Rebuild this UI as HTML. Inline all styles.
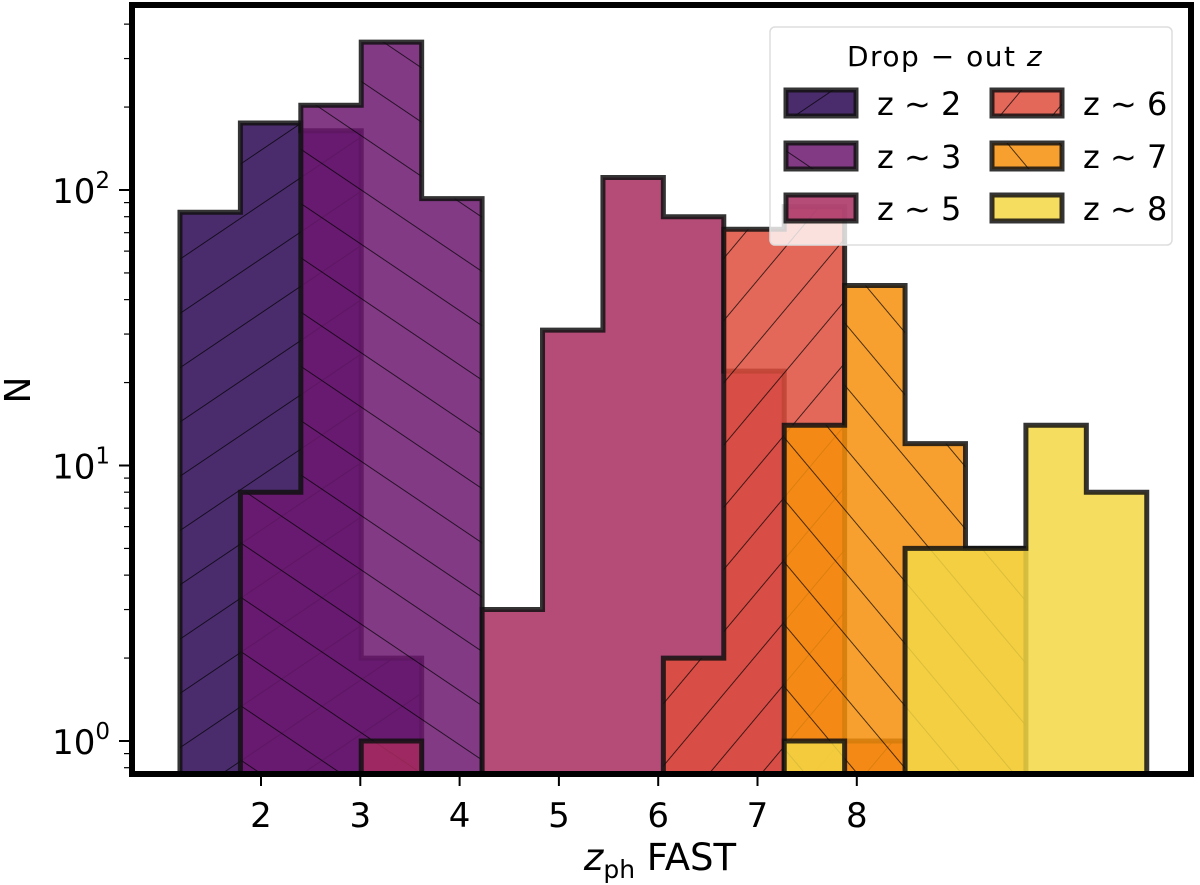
<!DOCTYPE html>
<html><head><meta charset="utf-8"><style>
html,body{margin:0;padding:0;background:#fff;}
svg{display:block;font-family:"DejaVu Sans","Liberation Sans",sans-serif;}
</style></head><body>
<svg id="chart" width="1200" height="885" viewBox="0 0 1200 885">
<defs>
<pattern id="hatchF" patternUnits="userSpaceOnUse" width="45" height="45" patternTransform="rotate(-34)"><line x1="0" y1="0.5" x2="45" y2="0.5" stroke="#000" stroke-width="0.9" stroke-opacity="0.7"/></pattern>
<pattern id="hatchB" patternUnits="userSpaceOnUse" width="45" height="45" patternTransform="rotate(34)"><line x1="0" y1="0.5" x2="45" y2="0.5" stroke="#000" stroke-width="0.9" stroke-opacity="0.7"/></pattern>
<pattern id="hatchF6" patternUnits="userSpaceOnUse" width="40" height="40" patternTransform="rotate(-50)"><line x1="0" y1="0.5" x2="40" y2="0.5" stroke="#000" stroke-width="0.9" stroke-opacity="0.7"/></pattern>
<pattern id="hatchB7" patternUnits="userSpaceOnUse" width="40" height="40" patternTransform="rotate(50)"><line x1="0" y1="0.5" x2="40" y2="0.5" stroke="#000" stroke-width="0.9" stroke-opacity="0.7"/></pattern>
<clipPath id="plotclip"><rect x="132" y="5" width="1060" height="769"/></clipPath>
</defs>
<g id="plot" clip-path="url(#plotclip)"></g>
<g id="axes"></g>
<rect x="132" y="5" width="1059" height="769" fill="none" stroke="#000" stroke-width="6"/>
<g id="legend"></g>
<text x="20" y="390" font-size="36" text-anchor="middle" transform="rotate(-90 20 390)" dominant-baseline="middle">N</text>
<text x="660" y="870" font-size="37" text-anchor="middle"><tspan font-style="italic">z</tspan><tspan font-size="25" dy="8">ph</tspan><tspan dy="-8"> FAST</tspan></text>
</svg>
<script>
const binStart = 1.184;
const binWidth = 0.6085;
const seriesNames = ["z ∼ 2","z ∼ 3","z ∼ 5","z ∼ 6","z ∼ 7","z ∼ 8"];
const counts2 = [83,175,164,2,0,0,0,0,0,0,0,0,0,0,0,0];
const counts3 = [0,8,203,344,93,0,0,0,0,0,0,0,0,0,0,0];
const counts5 = [0,0,0,1,0,3,31,111,80,22,0,0,0,0,0,0];
const counts6 = [0,0,0,0,0,0,0,0,2,72,87,1,0,0,0,0];
const counts7 = [0,0,0,0,0,0,0,0,0,0,14,45,12,5,0,0];
const counts8 = [0,0,0,0,0,0,0,0,0,0,1,0,5,5,14,8];
const xTicks = [2,3,4,5,6,7,8];
const yTicks = [0,1,2];

const NS = "http://www.w3.org/2000/svg";
const X = z => 261 + (z - 2) * 99.3;
const Y = n => 741 - Math.log10(n) * 275.5;
const BOT = 800;
const allCounts = [counts2,counts3,counts5,counts6,counts7,counts8];
const fills = ["#2a0754","#6c1770","#a82c5f","#de4e3d","#f78f0b","#f3d744"];
const hatches = ["url(#hatchF)","url(#hatchB)",null,"url(#hatchF6)","url(#hatchB7)",null];
const keys = ["z2","z3","z5","z6","z7","z8"];

function pathFor(c){
  let first=c.findIndex(v=>v>0), last=c.length-1-[...c].reverse().findIndex(v=>v>0);
  let d="M"+X(binStart+first*binWidth)+","+BOT;
  for(let i=first;i<=last;i++){
    const yy = c[i]>0 ? Y(c[i]) : BOT;
    d+=" L"+X(binStart+i*binWidth)+","+yy+" L"+X(binStart+(i+1)*binWidth)+","+yy;
  }
  d+=" L"+X(binStart+(last+1)*binWidth)+","+BOT+" Z";
  return d;
}
const plot=document.getElementById("plot");
allCounts.forEach((c,k)=>{
  const g=document.createElementNS(NS,"g");
  
  
  const d=pathFor(c);
  const f=document.createElementNS(NS,"path");
  f.setAttribute("d",d);f.setAttribute("fill",fills[k]);f.setAttribute("fill-opacity","0.85");
  
  
  g.appendChild(f);
  if(hatches[k]){
    const h=document.createElementNS(NS,"path");
    h.setAttribute("d",d);h.setAttribute("fill",hatches[k]);
    
    
    g.appendChild(h);
  }
  const o=document.createElementNS(NS,"path");
  o.setAttribute("d",d);o.setAttribute("fill","none");o.setAttribute("stroke","#111");o.setAttribute("stroke-opacity","0.85");o.setAttribute("stroke-width","5");
  
  
  g.appendChild(o);
  plot.appendChild(g);
});
const axes=document.getElementById("axes");
xTicks.forEach(t=>{
  const l=document.createElementNS(NS,"line");
  l.setAttribute("x1",X(t));l.setAttribute("x2",X(t));l.setAttribute("y1",776);l.setAttribute("y2",786);l.setAttribute("stroke","#000");l.setAttribute("stroke-width","2");
  
  
  axes.appendChild(l);
  const tx=document.createElementNS(NS,"text");
  tx.setAttribute("x",X(t));tx.setAttribute("y",827);tx.setAttribute("font-size","34");tx.setAttribute("text-anchor","middle");
  tx.textContent=t;
  
  
  axes.appendChild(tx);
});
yTicks.forEach(e=>{
  const v=Math.pow(10,e);
  const l=document.createElementNS(NS,"line");
  l.setAttribute("x1",119);l.setAttribute("x2",130);l.setAttribute("y1",Y(v));l.setAttribute("y2",Y(v));l.setAttribute("stroke","#000");l.setAttribute("stroke-width","2");
  
  
  axes.appendChild(l);
  const tx=document.createElementNS(NS,"text");
  tx.setAttribute("x",110);tx.setAttribute("y",Y(v)+13);tx.setAttribute("font-size","34");tx.setAttribute("text-anchor","end");
  tx.innerHTML='10<tspan font-size="23" dy="-15">'+e+'</tspan>';
  
  
  axes.appendChild(tx);
});
for(let e=-1;e<=2;e++){for(let m=2;m<=9;m++){
  const v=m*Math.pow(10,e), yy=Y(v);
  if(yy<6||yy>773) continue;
  const l=document.createElementNS(NS,"line");
  l.setAttribute("x1",124);l.setAttribute("x2",130);l.setAttribute("y1",yy);l.setAttribute("y2",yy);l.setAttribute("stroke","#000");l.setAttribute("stroke-width","1.2");
  
  
  axes.appendChild(l);
}}
const lg=document.getElementById("legend");
let html='<rect x="770" y="27" width="402" height="218" rx="5" fill="#fff" fill-opacity="0.8" stroke="#ddd" stroke-width="1.5"/>';
html+='<text x="945" y="66" font-size="28" letter-spacing="1.5" text-anchor="middle">Drop − out <tspan font-style="italic">z</tspan></text>';
const pos=[[786,90],[786,143],[786,195],[992,90],[992,143],[992,195]];
pos.forEach((p,k)=>{
  const hf = hatches[k] ? '<rect x="'+p[0]+'" y="'+p[1]+'" width="70" height="26" fill="'+hatches[k]+'"/>' : '';
  html+='<g><rect x="'+p[0]+'" y="'+p[1]+'" width="70" height="26" fill="'+fills[k]+'" fill-opacity="0.85"/>'+hf+'<rect x="'+p[0]+'" y="'+p[1]+'" width="70" height="26" fill="none" stroke="#111" stroke-opacity="0.85" stroke-width="5"/><text x="'+(p[0]+91)+'" y="'+(p[1]+25)+'" font-size="32">'+seriesNames[k]+'</text></g>';
});
lg.innerHTML=html;
</script>
</body></html>
